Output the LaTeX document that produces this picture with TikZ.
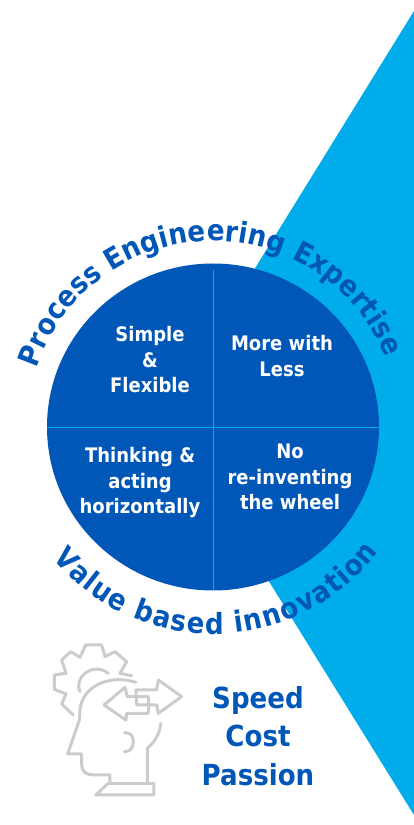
\documentclass[tikz,border=0pt]{standalone}
\usepackage{fontspec}
\setmainfont[FakeStretch=0.9]{DejaVu Sans}
\usetikzlibrary{decorations.text}
\definecolor{dk}{HTML}{0057B8}
\definecolor{cy}{HTML}{00ADEA}
\definecolor{gr}{HTML}{CCCCCC}
\tikzset{
 lbl/.style={text=white,font=\bfseries\fontsize{20}{25.5}\selectfont,align=center,inner sep=0pt},
 big/.style={text=dk,font=\bfseries\fontsize{29}{38.5}\selectfont,align=center,inner sep=0pt},
 div/.style={cy,line width=0.9pt},
 ico/.style={gr,line width=3pt,line join=round,line cap=round}
}
\begin{document}
\begin{tikzpicture}[x=1pt,y=1pt]
\useasboundingbox (0,0) rectangle (414,825);
\fill[cy] (414,814) -- (165,411) -- (414,10) -- cycle;
\fill[dk] (213,398) ellipse [x radius=166,y radius=163.5];
\coordinate (vt) at (213,555); \coordinate (vb) at (213,235);
\coordinate (hl) at (47,398); \coordinate (hr) at (379,398);
\draw[div] (vt) -- (vb);
\draw[div] (hl) -- (hr);
\node[lbl] (a) at (150,465) {Simple\\\&\\Flexible};
\node[lbl] (b) at (282,469) {More with\\Less};
\node[lbl] (c) at (140,342) {Thinking \&\\acting\\horizontally};
\node[lbl] (d) at (290,348) {No\\re-inventing\\the wheel};
\node[big] (e) at (258,89) {Speed\\Cost\\Passion};
\path[decorate,decoration={text along path,text align={fit to path},
 text={|\bfseries\fontsize{29}{29}\selectfont\color{dk}|Process Engineering Expertise}}]
 (213,398) ++(161.6:186) arc[start angle=161.6,end angle=22,radius=186];
\path[decorate,decoration={text along path,text align={fit to path},
 text={|\bfseries\fontsize{29}{29}\selectfont\color{dk}|Value based innovation}}]
 (213,398) ++(219.3:207) arc[start angle=219.3,end angle=323,radius=207];
\begin{scope}[shift={(30,195)},x=1pt/3,y=-1pt/3]
\draw[ico] (318,157) .. controls (230,130) and (155,175) .. (150,240) -- (148,270) -- (113,372) -- (155,372) -- (155,405) .. controls (155,425) and (170,435) .. (190,435) -- (240,435) -- (240,460);
\draw[ico] (235,460) -- (372,460) -- (372,495) -- (197,495) -- cycle;
\draw[ico] (352,460) -- (352,355) .. controls (375,335) and (390,310) .. (392,280);
\draw[ico] (283,308) .. controls (300,308) and (310,315) .. (310,335) .. controls (310,355) and (300,365) .. (283,365);
\draw[ico] (130,255) -- (95,222) -- (108,192) -- (73,178) -- (73,135) -- (108,130) -- (95,90) -- (122,65) -- (150,82) -- (167,45) -- (215,45) -- (225,80) -- (255,65) -- (290,95) -- (270,130) -- (305,137);
\draw[ico] (150,185) .. controls (130,140) and (190,95) .. (235,130);
\draw[ico] (222,225) -- (285,172) -- (292,200) -- (355,200) -- (355,250) -- (290,250) -- (288,270) -- cycle;
\draw[ico] (318,180) -- (380,180) -- (385,150) -- (455,200) -- (385,250) -- (380,225) -- (320,225) -- cycle;
\end{scope}
\end{tikzpicture}
\end{document}
